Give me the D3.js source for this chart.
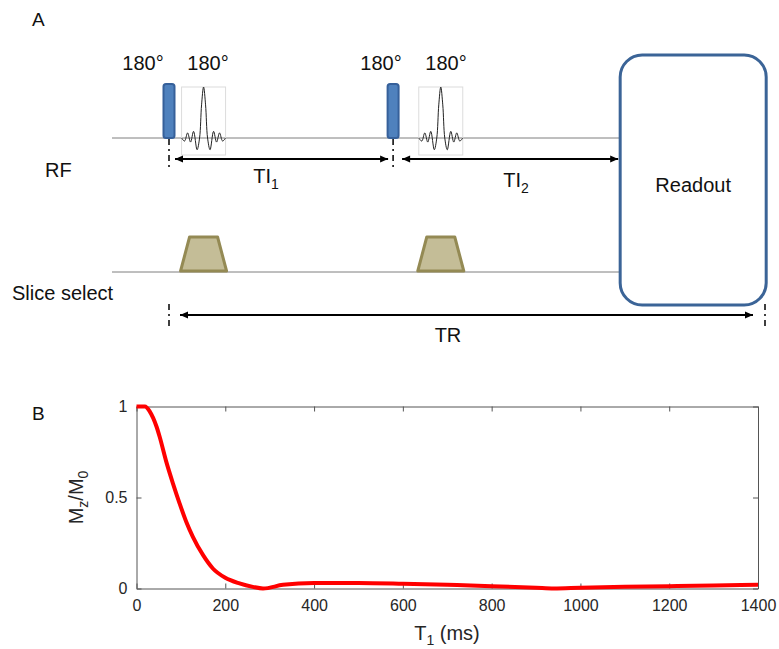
<!DOCTYPE html>
<html>
<head>
<meta charset="utf-8">
<script src="https://cdn.jsdelivr.net/npm/d3@7"></script>
<style>
    body { margin: 0; background: #fff; }
    svg { font-family: "Liberation Sans", Arial, sans-serif; }
    .seq-text { font-size: 20px; fill: #111; }
    .tick text { font-size: 16px; fill: #262626; font-family: "Liberation Sans", Arial, sans-serif; }
    .tick line, .domain { stroke: #555; }
</style>
</head>
<body>
<svg id="fig" width="779" height="649"></svg>
<script>
// ---- Sequence timing (schematic units, TR = 1000) ----
var invTimes = [0, 376];            // non-selective 180° (hard pulses)
var selTimes = [58, 456];           // slice-selective 180° (sinc pulses)
var readoutStart = 757;
var readoutEnd = 1002;
var TR = 1000;
var pulseLabels = ["180°", "180°", "180°", "180°"];

// sinc pulse shape: offset (px from centre), relative amplitude
var sincOffsets = [-22, -19, -16, -13, -10, -6.5, -4, -2, 0, 2, 4, 6.5, 10, 13, 16, 19, 22];
var sincAmps    = [0, -0.06, 0.1, -0.08, 0.13, -0.23, 0, 0.65, 1, 0.65, 0, -0.23, 0.13, -0.08, 0.1, -0.06, 0];

// ---- Mz/M0 vs T1 curve ----
var t1Values = [0, 19, 30, 45, 52, 67, 82, 97, 112, 127, 150, 172, 200, 232, 262, 285, 330, 400, 500, 600, 700, 800, 900, 940, 1000, 1100, 1200, 1300, 1400];
var mzValues = [1.0, 1.0, 0.972, 0.89, 0.835, 0.697, 0.578, 0.468, 0.367, 0.284, 0.183, 0.110, 0.059, 0.028, 0.009, 0.0, 0.02, 0.03, 0.03, 0.026, 0.02, 0.013, 0.004, 0.0, 0.004, 0.009, 0.013, 0.017, 0.02];
var xTicks = [0, 200, 400, 600, 800, 1000, 1200, 1400];
var yTicks = [0, 0.5, 1];

var svg = d3.select("#fig");

// Arrow heads
var defs = svg.append("defs");
defs.append("marker")
    .attr("id", "arrow")
    .attr("viewBox", "0 -5 10 10")
    .attr("refX", 10).attr("refY", 0)
    .attr("markerWidth", 9).attr("markerHeight", 8)
    .attr("markerUnits", "userSpaceOnUse")
    .attr("orient", "auto-start-reverse")
  .append("path")
    .attr("d", "M0,-4.5L10,0L0,4.5Z")
    .attr("fill", "#000");

// ================= Panel A =================
var seqX = d3.scaleLinear().domain([0, TR]).range([169, 765]);
var rfY = 138, gY = 272;

svg.append("text").attr("class", "seq-text").attr("x", 32).attr("y", 26).style("font-size", "19px").text("A");

// baselines
svg.append("line").attr("x1", 112).attr("x2", seqX(readoutStart)).attr("y1", rfY).attr("y2", rfY)
    .attr("stroke", "#7f7f7f").attr("stroke-width", 1);
svg.append("line").attr("x1", 112).attr("x2", seqX(readoutStart)).attr("y1", gY).attr("y2", gY)
    .attr("stroke", "#7f7f7f").attr("stroke-width", 1);

// hard inversion pulses
svg.selectAll(".inv")
    .data(invTimes)
    .enter()
  .append("rect")
    .attr("class", "inv")
    .attr("x", function(d) { return seqX(d) - 5.5 })
    .attr("y", 84)
    .attr("width", 11)
    .attr("height", rfY - 84)
    .attr("rx", 2.5)
    .attr("fill", "#4f81bd")
    .attr("stroke", "#36609a")
    .attr("stroke-width", 2);

// sinc pulses
var sincX = d3.scaleLinear().domain([-22, 22]).range([-22, 22]);
var sincY = d3.scaleLinear().domain([0, 1]).range([rfY, 87]);
var sincLine = d3.line()
    .x(function(d) { return sincX(d[0]) })
    .y(function(d) { return sincY(d[1]) })
    .curve(d3.curveCatmullRom);
var sincPts = sincOffsets.map(function(o, i) { return [o, sincAmps[i]] });

var sincG = svg.selectAll(".sinc")
    .data(selTimes)
    .enter()
  .append("g")
    .attr("class", "sinc")
    .attr("transform", function(d) { return "translate(" + seqX(d) + ",0)" });
sincG.append("rect")
    .attr("x", -22).attr("y", 87).attr("width", 44).attr("height", 68)
    .attr("fill", "none").attr("stroke", "#dcdcdc").attr("stroke-width", 1);
sincG.append("path")
    .attr("d", sincLine(sincPts))
    .attr("fill", "none").attr("stroke", "#222").attr("stroke-width", 1);

// pulse labels
svg.selectAll(".plabel")
    .data([143, 208, 381, 446])
    .enter()
  .append("text")
    .attr("class", "seq-text")
    .attr("x", function(d) { return d })
    .attr("y", 70)
    .attr("text-anchor", "middle")
    .text(function(d, i) { return pulseLabels[i] });

// slice select gradients
svg.selectAll(".trap")
    .data(selTimes)
    .enter()
  .append("path")
    .attr("class", "trap")
    .attr("d", function(d) {
        var c = seqX(d);
        return "M" + (c - 23) + "," + (gY - 1) + "L" + (c - 14) + "," + 237 +
               "L" + (c + 14) + "," + 237 + "L" + (c + 23) + "," + (gY - 1) + "Z";
    })
    .attr("fill", "#c4bd97")
    .attr("stroke", "#948a54")
    .attr("stroke-width", 3)
    .attr("stroke-linejoin", "round");

// readout box
svg.append("rect")
    .attr("x", seqX(readoutStart)).attr("y", 55)
    .attr("width", seqX(readoutEnd) - seqX(readoutStart)).attr("height", 250)
    .attr("rx", 22)
    .attr("fill", "#fff").attr("stroke", "#3b6497").attr("stroke-width", 3);
svg.append("text").attr("class", "seq-text")
    .attr("x", (seqX(readoutStart) + seqX(readoutEnd)) / 2).attr("y", 192)
    .attr("text-anchor", "middle").text("Readout");

// dashed timing markers
function marker(x, y1, y2) {
    svg.append("line").attr("x1", x).attr("x2", x).attr("y1", y1).attr("y2", y2)
        .attr("stroke", "#000").attr("stroke-width", 1.5).attr("stroke-dasharray", "6,4,2,4");
}
marker(seqX(invTimes[0]), rfY + 1, 169);
marker(seqX(invTimes[1]), rfY + 1, 169);
marker(seqX(invTimes[0]), 304, 330);
marker(seqX(TR), 304, 330);

// arrows
function arrow(x1, x2, y) {
    svg.append("line").attr("x1", x1).attr("x2", x2).attr("y1", y).attr("y2", y)
        .attr("stroke", "#000").attr("stroke-width", 2)
        .attr("marker-start", "url(#arrow)").attr("marker-end", "url(#arrow)");
}
arrow(seqX(invTimes[0]) + 6, seqX(invTimes[1]) - 5, 159);
arrow(seqX(invTimes[1]) + 9, seqX(readoutStart) - 2, 159);
arrow(seqX(invTimes[0]) + 11, seqX(TR) - 12, 315);

// labels with subscripts
function subLabel(x, y, main, sub, size) {
    var t = svg.append("text").attr("class", "seq-text").attr("x", x).attr("y", y)
        .attr("text-anchor", "middle").style("font-size", size + "px");
    t.append("tspan").text(main);
    t.append("tspan").attr("dy", size * 0.28).style("font-size", (size * 0.7) + "px").text(sub);
    return t;
}
subLabel(266, 183, "TI", "1", 20);
subLabel(516, 187, "TI", "2", 20);
svg.append("text").attr("class", "seq-text").attr("x", 448).attr("y", 342).attr("text-anchor", "middle").text("TR");
svg.append("text").attr("class", "seq-text").attr("x", 45).attr("y", 177).text("RF");
svg.append("text").attr("class", "seq-text").attr("x", 12).attr("y", 300).text("Slice select");

// ================= Panel B =================
var x = d3.scaleLinear().domain([0, 1400]).range([136.5, 758]);
var y = d3.scaleLinear().domain([0, 1]).range([588.5, 406.5]);

svg.append("text").attr("class", "seq-text").attr("x", 32).attr("y", 420).style("font-size", "19px").text("B");

var plot = svg.append("g");

plot.append("g")
    .attr("transform", "translate(0," + y(0) + ")")
    .call(d3.axisBottom(x).tickValues(xTicks).tickSizeInner(-5).tickSizeOuter(0).tickPadding(11)
        .tickFormat(d3.format("d")));
plot.append("g")
    .attr("transform", "translate(0," + y(1) + ")")
    .call(d3.axisTop(x).tickValues(xTicks).tickSizeInner(-5).tickSizeOuter(0).tickFormat(""));
plot.append("g")
    .attr("transform", "translate(" + x(0) + ",0)")
    .call(d3.axisLeft(y).tickValues(yTicks).tickSizeInner(-5).tickSizeOuter(0).tickPadding(9)
        .tickFormat(function(d) { return d == 0.5 ? "0.5" : d3.format("d")(d) }));
plot.append("g")
    .attr("transform", "translate(" + x(1400) + ",0)")
    .call(d3.axisRight(y).tickValues(yTicks).tickSizeInner(-5).tickSizeOuter(0).tickFormat(""));

var line = d3.line()
    .x(function(d, i) { return x(t1Values[i]) })
    .y(function(d) { return y(d) })
    .curve(d3.curveMonotoneX);

plot.append("path")
    .attr("d", line(mzValues))
    .attr("fill", "none")
    .attr("stroke", "#ff0000")
    .attr("stroke-width", 4)
    .attr("stroke-linejoin", "round");

// axis labels
var xl = svg.append("text").attr("x", 447).attr("y", 640).attr("text-anchor", "middle")
    .style("font-size", "20px").attr("fill", "#262626");
xl.append("tspan").text("T");
xl.append("tspan").attr("dy", 5).style("font-size", "14px").text("1");
xl.append("tspan").attr("dy", -5).text(" (ms)");

var yl = svg.append("text").attr("transform", "translate(83," + y(0.5) + ") rotate(-90)")
    .attr("text-anchor", "middle").style("font-size", "20px").attr("fill", "#262626");
yl.append("tspan").text("M");
yl.append("tspan").attr("dy", 5).style("font-size", "14px").text("z");
yl.append("tspan").attr("dy", -5).text("/M");
yl.append("tspan").attr("dy", 5).style("font-size", "14px").text("0");
</script>
</body>
</html>
